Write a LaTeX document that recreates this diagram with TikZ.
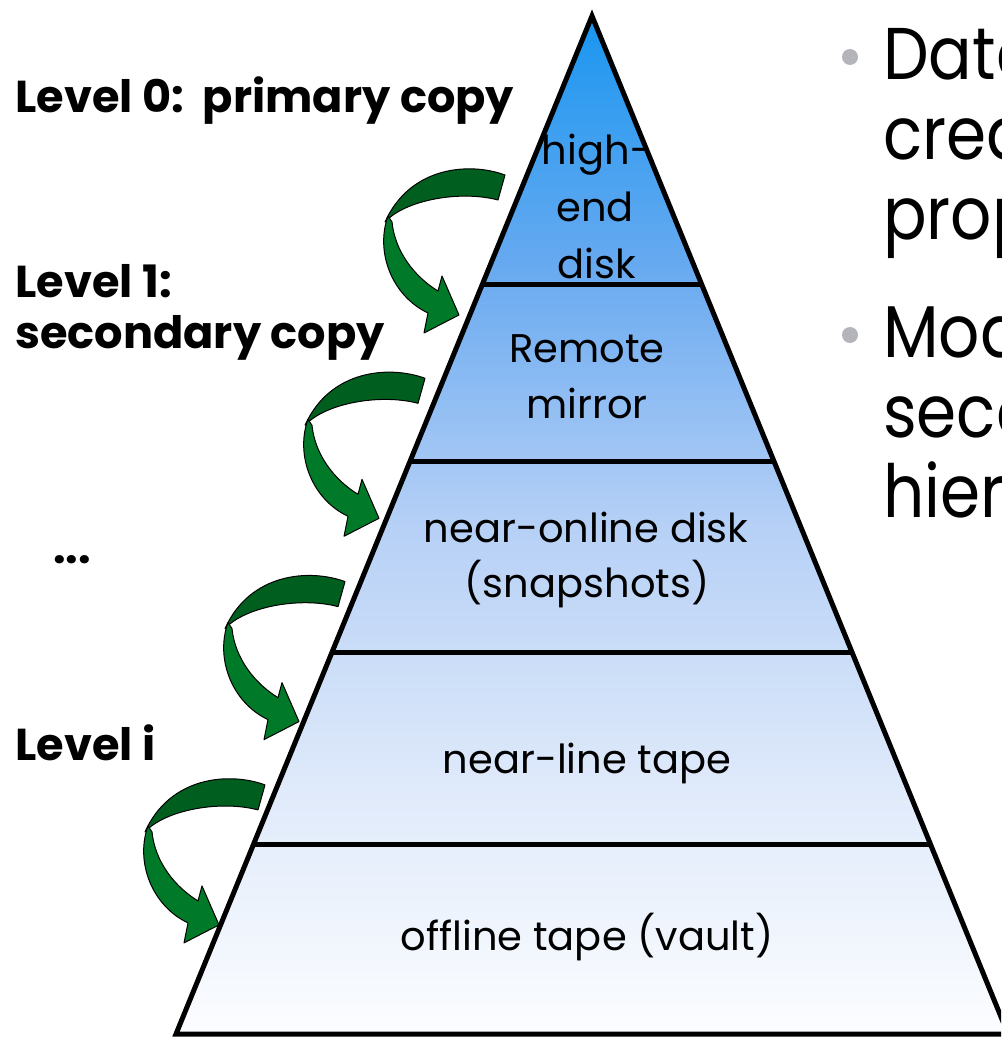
\documentclass[tikz,border=0pt]{standalone}
\usepackage{fontspec}
\setmainfont{Poppins}
\newfontfamily\bigfont[FakeStretch=0.88]{Poppins}
\usetikzlibrary{calc}
\definecolor{c0}{RGB}{252,253,255}
\definecolor{c1}{RGB}{222,233,250}
\definecolor{c2}{RGB}{182,208,246}
\definecolor{c3}{RGB}{105,170,240}
\definecolor{c4}{RGB}{25,150,240}
\definecolor{arrdark}{RGB}{0,95,30}
\definecolor{arrlight}{RGB}{0,122,40}
\definecolor{bulletgray}{RGB}{180,181,186}
\pgfdeclareverticalshading{pyrshade}{100bp}{color(0bp)=(c0); color(25bp)=(c0); color(37.5bp)=(c1); color(50bp)=(c2); color(62.5bp)=(c3); color(75bp)=(c4); color(100bp)=(c4)}
\tikzset{
  pyrtext/.style={anchor=base, inner sep=0pt, font=\fontsize{30pt}{36pt}\selectfont},
  lvltext/.style={anchor=base west, inner sep=0pt, font=\fontsize{33.5pt}{40pt}\selectfont\bfseries},
  bigtext/.style={anchor=base west, inner sep=0pt, font=\bigfont\fontsize{55pt}{60pt}\selectfont},
  sepline/.style={line width=3.75pt},
  arrback/.style={fill=arrdark, draw=black, line width=0.75pt, line join=round},
  arrfront/.style={fill=arrlight, draw=black, line width=0.75pt, line join=round}
}
\begin{document}
\begin{tikzpicture}[x=0.75pt,y=-0.75pt]
\useasboundingbox (0,0) rectangle (1001,1037);
\clip (0,0) rectangle (1001,1037);
% pyramid
\coordinate (apex) at (592,16);
\coordinate (bl) at (176,1034);
\coordinate (br) at (1008,1034);
\shade[shading=pyrshade] (apex) -- (bl) -- (br) -- cycle;
\foreach \t [count=\k] in {0.2633,0.4381,0.6257,0.8143}{
  \coordinate (L\k) at ($(apex)!\t!(bl)$);
  \coordinate (R\k) at ($(apex)!\t!(br)$);
  \draw[sepline] (L\k) -- (R\k);
}
\draw[line width=3.75pt, line join=miter] (apex) -- (bl) -- (br) -- cycle;
% pyramid texts
\node[pyrtext] (hd1) at (597,165) {high-};
\node[pyrtext] (hd2) at (595,222) {end};
\node[pyrtext] (hd3) at (597,278) {disk};
\node[pyrtext] (rm1) at (587,362) {Remote};
\node[pyrtext] (rm2) at (587,418) {mirror};
\node[pyrtext] (no1) at (586,542) {near-online disk};
\node[pyrtext] (no2) at (587,597) {(snapshots)};
\node[pyrtext] (nl) at (587,773) {near-line tape};
\node[pyrtext] (ot) at (587,950) {offline tape (vault)};
% level labels
\node[lvltext] (lv0) at (15,113) {Level 0:\ \ primary copy};
\node[lvltext] (lv1a) at (15,297) {Level 1:};
\node[lvltext] (lv1b) at (15,348) {secondary copy};
\node[lvltext] (dots) at (53,563) {...};
\node[lvltext] (lvi) at (15,760) {Level i};
% right bullet text
\fill[bulletgray] (850,57) circle (8);
\fill[bulletgray] (850,335) circle (8);
\node[bigtext] (b1a) at (883,80) {Data};
\node[bigtext] (b1b) at (883,160) {created};
\node[bigtext] (b1c) at (883,240) {properties};
\node[bigtext] (b2a) at (883,357) {Models};
\node[bigtext] (b2b) at (883,437) {secondary};
\node[bigtext] (b2c) at (883,517) {hierarchy};
% curved arrows
\foreach \i in {0,1,2,3}{
  \begin{scope}[shift={(-80*\i,203.3*\i)}]
    \draw[arrback] (505,175) .. controls (470,162) and (410,166) .. (385,222)
       .. controls (405,200) and (460,190) .. (498,200) -- cycle;
    \draw[arrfront] (388,216) .. controls (375,252) and (392,296) .. (428,313)
       -- (424,333) -- (459,315) -- (442,276) -- (438,291)
       .. controls (415,277) and (395,252) .. (392,222) -- cycle;
  \end{scope}
}
\end{tikzpicture}
\end{document}
